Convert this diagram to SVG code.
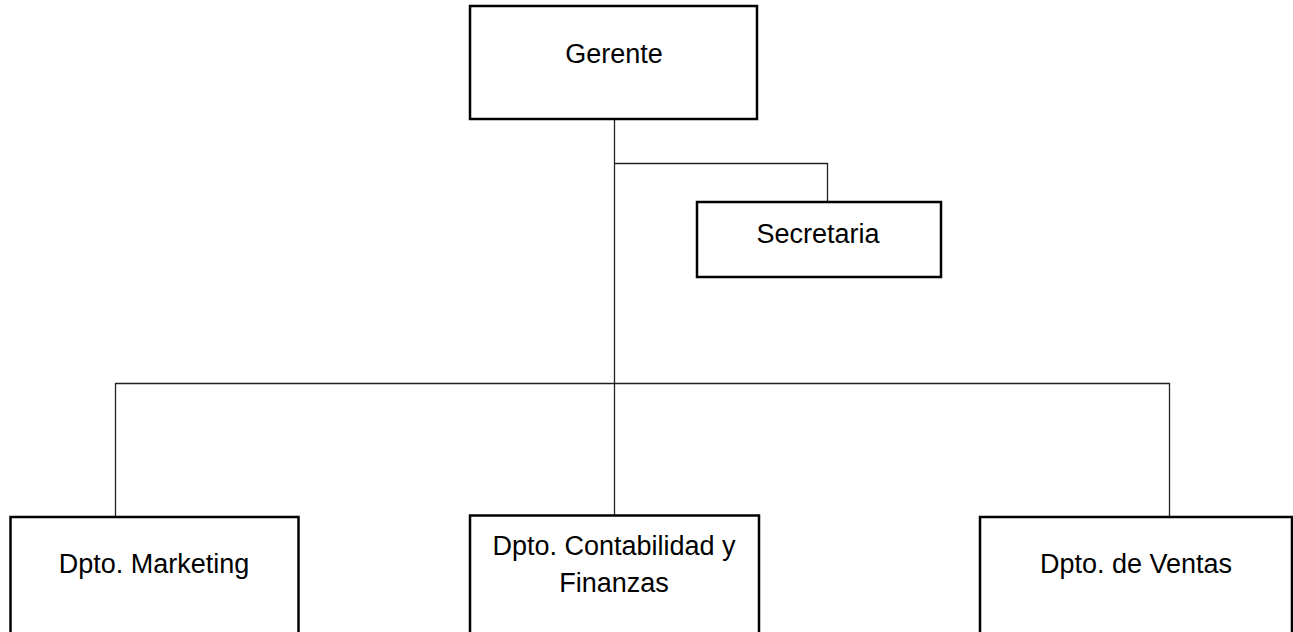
<svg xmlns="http://www.w3.org/2000/svg" width="1293" height="632" viewBox="0 0 1293 632">
<style>
.box{fill:#fff;stroke:#000;stroke-width:2.5}
.lbl{font-family:"Liberation Sans",Arial,sans-serif;font-size:27px;fill:#000;text-anchor:middle}
.con{fill:none;stroke:#222;stroke-width:1.3}
</style>
<rect width="1293" height="632" fill="#fff"/>
<g id="connectors">
<path class="con" d="M614.5 119 V515"/>
<path class="con" d="M614.5 163.5 H827.5 V202"/>
<path class="con" d="M115.5 517 V383.5 H1169.5 V517"/>
</g>
<g id="gerente">
<rect class="box" x="470" y="6" width="287" height="113"/>
<text class="lbl" x="614" y="62.5">Gerente</text>
</g>
<g id="secretaria">
<rect class="box" x="697" y="202" width="244" height="75"/>
<text class="lbl" x="818" y="242.5">Secretaria</text>
</g>
<g id="marketing">
<rect class="box" x="10.5" y="517" width="288" height="130"/>
<text class="lbl" x="154" y="572.5">Dpto. Marketing</text>
</g>
<g id="contabilidad">
<rect class="box" x="470" y="515.5" width="289" height="130"/>
<text class="lbl" x="614" y="555">Dpto. Contabilidad y</text>
<text class="lbl" x="614" y="592">Finanzas</text>
</g>
<g id="ventas">
<rect class="box" x="980" y="517" width="312" height="130"/>
<text class="lbl" x="1136" y="572.5">Dpto. de Ventas</text>
</g>
</svg>
